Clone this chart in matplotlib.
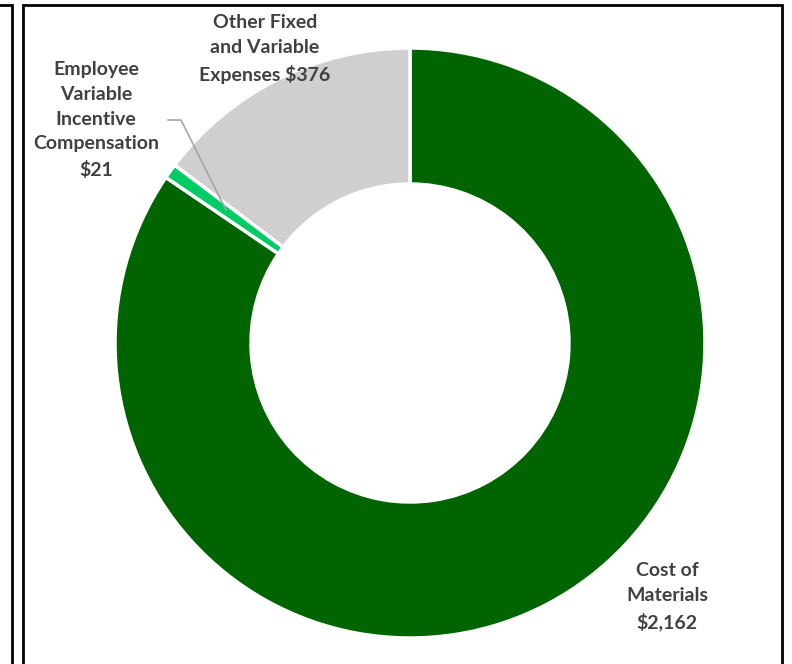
import numpy as np
import matplotlib
matplotlib.use("Agg")
import matplotlib.pyplot as plt

# cost breakdown (in $)
labels = ["Cost of\nMaterials\n$2,162",
          "Employee\nVariable\nIncentive\nCompensation\n$21",
          "Other Fixed\nand Variable\nExpenses $376"]
values = [2162, 21, 376]
colors = ["#006400", "#00CC66", "#D0CECE"]

W, H = 792, 664
fig = plt.figure(figsize=(W / 100, H / 100), dpi=100)
ax = fig.add_axes([0, 0, 1, 1])

# donut, drawn in pixel-like data units (y up)
cx, cy, r_out, r_in = 410, H - 343, 295, 159
ax.pie(values, colors=colors, startangle=90, counterclock=False,
       center=(cx, cy), radius=r_out,
       wedgeprops=dict(width=r_out - r_in, edgecolor="white", linewidth=2.5))
ax.set_xlim(0, W)
ax.set_ylim(0, H)
ax.set_aspect("equal")
ax.axis("off")

txt = dict(ha="center", va="center", fontsize=14, fontweight="bold",
           color="#404040", family=["Lato", "DejaVu Sans"], linespacing=1.55)
ax.text(667, H - 597, labels[0], **txt)
ax.text(96, H - 120, labels[1], **txt)
ax.text(265, H - 49, labels[2], **txt)

# leader line for the small slice
ax.plot([168, 181, 226], [H - 120, H - 120, H - 210], color="#A6A6A6", lw=1.2)

# chart borders
ax.plot([23, 23, 782, 782], [-5, H - 5, H - 5, -5], color="black", lw=2,
        solid_joinstyle="miter", clip_on=False)
ax.plot([0, 12, 12], [H - 5, H - 5, -5], color="black", lw=2,
        solid_joinstyle="miter", clip_on=False)

fig.savefig("out.png", dpi=100)
